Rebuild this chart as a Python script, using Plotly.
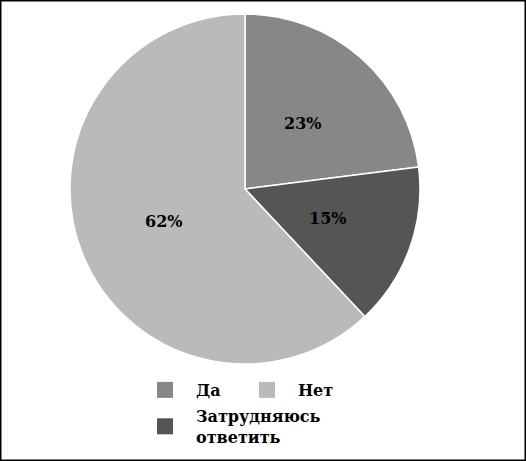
import math

import plotly.graph_objects as go

categories = ["Да", "Нет", "Затрудняюсь ответить"]
shares = [23, 62, 15]
colors = ["#878787", "#bababa", "#555555"]
legend_rows = ["legend", "legend", "legend2"]
# clockwise from 12 o'clock the slices run Да, Затрудняюсь ответить, Нет
pie_order = [0, 2, 1]

FONT = "DejaVu Serif"
W, H = 526, 461
# pie box in pixels (left, right, top, bottom)
PIE_L, PIE_R, PIE_T, PIE_B = 70, 420, 14, 364

fig = go.Figure()

fig.add_trace(
    go.Pie(
        labels=[categories[i] for i in pie_order],
        values=[shares[i] for i in pie_order],
        sort=False,
        direction="clockwise",
        rotation=0,
        marker=dict(
            colors=[colors[i] for i in pie_order],
            line=dict(color="white", width=1.5),
        ),
        textinfo="none",
        showlegend=False,
        hoverinfo="label+percent",
        domain=dict(x=[PIE_L / W, PIE_R / W], y=[1 - PIE_B / H, 1 - PIE_T / H]),
    )
)

# percentage labels at half the radius on each slice's middle angle
cx = (PIE_L + PIE_R) / 2 / W
cy = 1 - (PIE_T + PIE_B) / 2 / H
radius = (PIE_R - PIE_L) / 2
total = sum(shares)
start = 0.0
for i in pie_order:
    mid = (start + shares[i] / 2) / total * 2 * math.pi
    start += shares[i]
    fig.add_annotation(
        x=cx + 0.5 * radius * math.sin(mid) / W,
        y=cy + 0.5 * radius * math.cos(mid) / H,
        xref="paper",
        yref="paper",
        xanchor="center",
        yanchor="middle",
        text=f"{shares[i]}%",
        showarrow=False,
        font=dict(family=FONT, size=16, color="black", weight="bold"),
    )

# legend entries as dummy markers so the two rows can be laid out like the original
for name, color, leg in zip(categories, colors, legend_rows):
    fig.add_trace(
        go.Scatter(
            x=[None],
            y=[None],
            mode="markers",
            name=name.replace(" ", "<br>"),
            marker=dict(symbol="square", size=16, color=color),
            legend=leg,
            hoverinfo="skip",
        )
    )

legend_common = dict(
    orientation="h",
    xanchor="left",
    yanchor="top",
    itemwidth=52,
    font=dict(family=FONT, size=16, color="black", weight="bold"),
    bgcolor="rgba(0,0,0,0)",
    itemclick=False,
)

fig.update_layout(
    width=W,
    height=H,
    margin=dict(l=0, r=0, t=0, b=0),
    paper_bgcolor="white",
    plot_bgcolor="white",
    xaxis=dict(visible=False),
    yaxis=dict(visible=False),
    legend=dict(x=134 / W, y=1 - 373 / H, entrywidth=35, **legend_common),
    legend2=dict(x=134 / W, y=1 - 399 / H, **legend_common),
    shapes=[
        dict(
            type="rect",
            xref="paper",
            yref="paper",
            x0=0,
            x1=1,
            y0=0,
            y1=1,
            line=dict(color="black", width=3),
        )
    ],
)

# drop the browser's default body margin so the figure sits at the page corner
fig.write_html(
    "out.html",
    config={"displayModeBar": False},
    post_script="document.body.style.margin = '0';",
)
